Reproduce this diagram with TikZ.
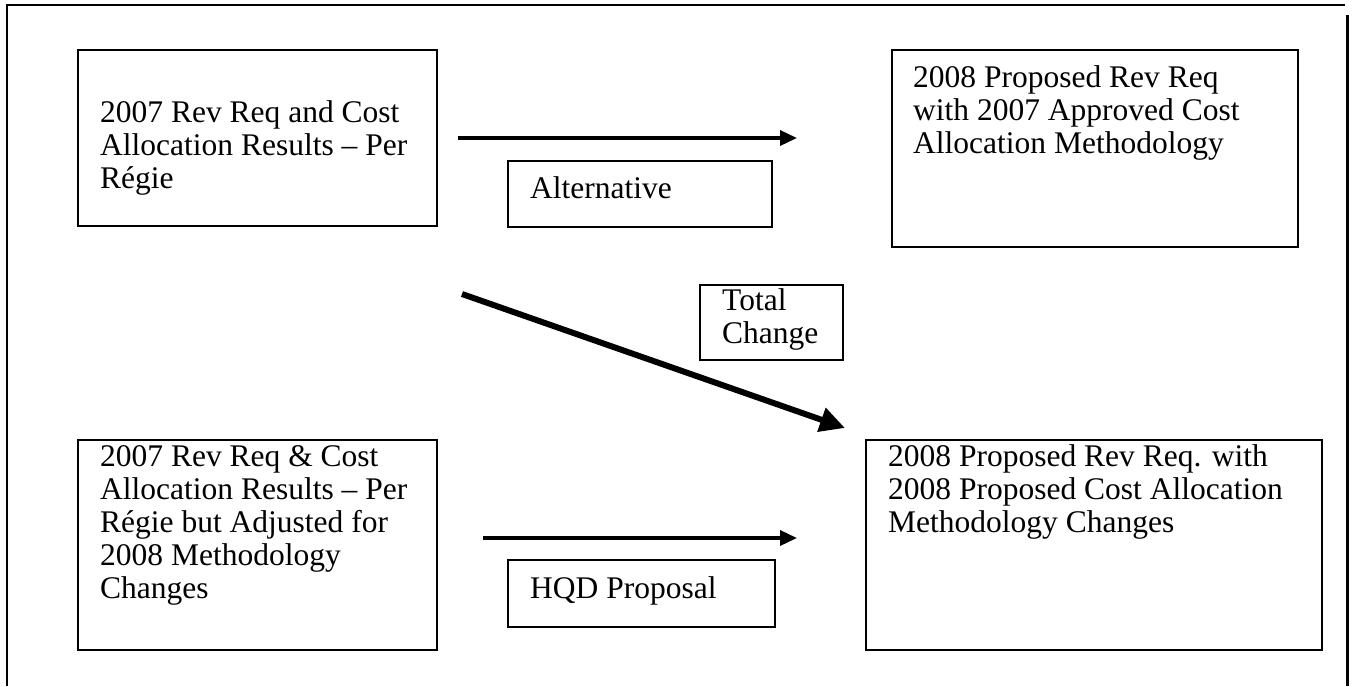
\documentclass[tikz,border=0pt]{standalone}
\usepackage{fontspec}
\setmainfont{Liberation Serif}
\usetikzlibrary{arrows.meta}
\newcommand\mytxt[1]{\begin{tabular}[t]{@{}l@{}}#1\end{tabular}}
\begin{document}
\begin{tikzpicture}[x=1pt,y=-1pt,
  box/.style={draw, line width=2pt, inner sep=0pt},
  smallbox/.style={draw, line width=1.6pt, inner sep=0pt},
  txt/.style={inner sep=0pt, anchor=base west, font=\fontsize{31.5}{33}\selectfont},
  arr/.style={line width=3.5pt, -{Triangle[length=17pt,width=15pt]}},
  bigarr/.style={line width=6pt, -{Triangle[length=25pt,width=24pt]}}]
\useasboundingbox (0,0) rectangle (1352,686);
% outer frame
\draw[line width=2pt] (7,686) -- (7,5) -- (1345,5);
\draw[line width=3pt] (1347,15) -- (1347,686);
% boxes
\node[box, minimum width=359pt, minimum height=176pt] (b1) at (257.5,138) {};
\node[box, minimum width=406pt, minimum height=197pt] (b2) at (1095,148.5) {};
\node[smallbox, minimum width=264pt, minimum height=66pt] (alt) at (640,194) {};
\node[smallbox, minimum width=143pt, minimum height=75pt] (tc) at (771.5,322.5) {};
\node[box, minimum width=359pt, minimum height=210pt] (b3) at (257.5,545) {};
\node[box, minimum width=456pt, minimum height=210pt] (b4) at (1094,545) {};
\node[smallbox, minimum width=267pt, minimum height=67pt] (hqd) at (641.5,593.5) {};
% texts
\node[txt] (t1) at (100,122) {\mytxt{2007 Rev Req and Cost\\Allocation Results – Per\\Régie}};
\node[txt] (t2) at (913,87) {\mytxt{2008 Proposed Rev Req\\with 2007 Approved Cost\\Allocation Methodology}};
\node[txt] (t3) at (100,466) {\mytxt{2007 Rev Req \& Cost\\Allocation Results – Per\\Régie but Adjusted for\\2008 Methodology\\Changes}};
\node[txt] (t4) at (888,466) {\mytxt{2008 Proposed Rev Req. with\\2008 Proposed Cost Allocation\\Methodology Changes}};
\node[txt] (talt) at (530,198) {Alternative};
\node[txt] (ttc) at (722,310) {\mytxt{Total\\Change}};
\node[txt] (thqd) at (530,598) {HQD Proposal};
% arrows
\coordinate (a1s) at (458,138);
\coordinate (a1e) at (797,138);
\coordinate (a2s) at (462,294);
\coordinate (a2e) at (845,428);
\coordinate (a3s) at (483,538);
\coordinate (a3e) at (797,538);
\draw[arr] (a1s) -- (a1e);
\draw[bigarr] (a2s) -- (a2e);
\draw[arr] (a3s) -- (a3e);
\end{tikzpicture}
\end{document}
